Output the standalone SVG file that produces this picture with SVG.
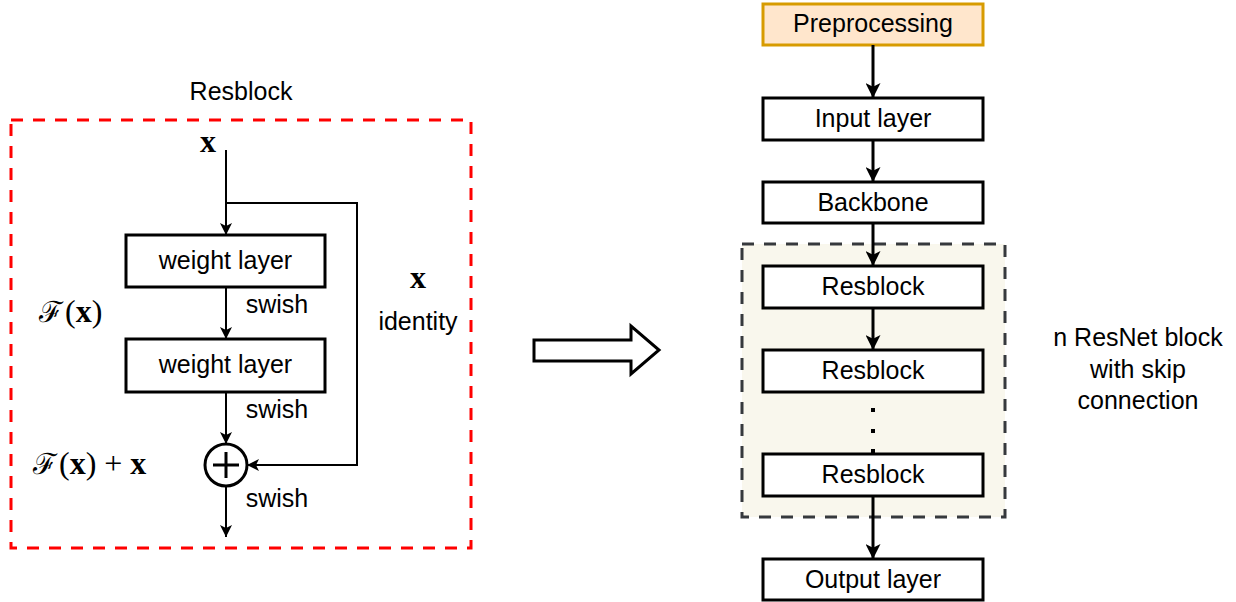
<svg xmlns="http://www.w3.org/2000/svg" width="1236" height="602" viewBox="0 0 1236 602">
<style>
.lbl{font-family:"Liberation Sans",Arial,sans-serif;font-size:25px;fill:#000;text-anchor:middle}
.math{font-family:"Liberation Serif","DejaVu Serif",serif;font-size:32px;fill:#000}
.box{fill:#fff;stroke:#000;stroke-width:3}
.ln{fill:none;stroke:#000;stroke-width:2}
.lnR{fill:none;stroke:#000;stroke-width:3}
</style>
<defs>
<marker id="ah" viewBox="0 0 12 12" refX="12" refY="6" markerWidth="12" markerHeight="12" markerUnits="userSpaceOnUse" orient="auto">
<path d="M0,0 L12,6 L0,12 L3,6 Z" fill="#000"/>
</marker>
<marker id="ahR" viewBox="0 0 14 14" refX="14" refY="7" markerWidth="15" markerHeight="15" markerUnits="userSpaceOnUse" orient="auto">
<path d="M0,0 L14,7 L0,14 L3.5,7 Z" fill="#000"/>
</marker>
</defs>
<rect width="1236" height="602" fill="#fff"/>

<g id="resblock-frame">
<rect x="11" y="120" width="460" height="428" fill="none" stroke="#ff0000" stroke-width="3" stroke-dasharray="12 10"/>
<text class="lbl" x="241" y="100">Resblock</text>
</g>

<g id="wl1"><rect class="box" x="126" y="235" width="199" height="52"/><text class="lbl" x="225.5" y="269">weight layer</text></g>
<g id="wl2"><rect class="box" x="126" y="339" width="199" height="53"/><text class="lbl" x="225.5" y="373">weight layer</text></g>
<g id="sum"><circle cx="226" cy="465" r="21" fill="#fff" stroke="#000" stroke-width="3"/><path d="M213,465 H239 M226,452 V478" stroke="#000" stroke-width="3"/></g>

<g id="left-labels">
<text class="math" x="208" y="152" text-anchor="middle" font-weight="bold">x</text>
<text class="math" x="418" y="288" text-anchor="middle" font-weight="bold">x</text>
<text class="lbl" x="418" y="330">identity</text>
<text class="lbl" x="277" y="313">swish</text>
<text class="lbl" x="277" y="418">swish</text>
<text class="lbl" x="277" y="507">swish</text>
<text class="math" x="39" y="322"><tspan font-family="'DejaVu Serif',serif" font-size="29">ℱ</tspan><tspan dx="2">(</tspan><tspan font-weight="bold">x</tspan>)</text>
<text class="math" x="33" y="474"><tspan font-family="'DejaVu Serif',serif" font-size="29">ℱ</tspan><tspan dx="2">(</tspan><tspan font-weight="bold">x</tspan>)<tspan dx="8">+</tspan><tspan dx="8" font-weight="bold">x</tspan></text>
</g>

<g id="big-arrow">
<polygon points="534,340 631,340 631,326 659,350 631,374 631,361 534,361" fill="#fff" stroke="#000" stroke-width="3"/>
</g>

<g id="group-box">
<rect x="742" y="244" width="263" height="273" fill="#f9f7ed" stroke="#36393d" stroke-width="3" stroke-dasharray="12 10"/>
</g>

<g id="pre"><rect x="763" y="4" width="220" height="41" fill="#ffe6cc" stroke="#d79b00" stroke-width="3"/><text class="lbl" x="873" y="32">Preprocessing</text></g>
<g id="input"><rect class="box" x="763" y="98" width="220" height="42"/><text class="lbl" x="873" y="127">Input layer</text></g>
<g id="backbone"><rect class="box" x="763" y="182" width="220" height="41"/><text class="lbl" x="873" y="211">Backbone</text></g>
<g id="rb1"><rect class="box" x="763" y="266" width="220" height="42"/><text class="lbl" x="873" y="295">Resblock</text></g>
<g id="rb2"><rect class="box" x="763" y="350" width="220" height="42"/><text class="lbl" x="873" y="379">Resblock</text></g>
<g id="rb3"><rect class="box" x="763" y="454" width="220" height="42"/><text class="lbl" x="873" y="483">Resblock</text></g>
<g id="output"><rect class="box" x="763" y="559" width="220" height="41"/><text class="lbl" x="873" y="588">Output layer</text></g>

<g id="dots" fill="#000">
<rect x="871" y="408" width="4" height="4"/>
<rect x="871" y="429" width="4" height="4"/>
<rect x="871" y="449" width="4" height="4"/>
</g>

<g id="note">
<text class="lbl" x="1138" y="346">n ResNet block</text>
<text class="lbl" x="1138" y="378">with skip</text>
<text class="lbl" x="1138" y="409">connection</text>
</g>

<g id="connectors">
<line class="ln" x1="226" y1="150" x2="226" y2="235" marker-end="url(#ah)"/>
<line class="ln" x1="226" y1="287" x2="226" y2="339" marker-end="url(#ah)"/>
<line class="ln" x1="226" y1="392" x2="226" y2="444" marker-end="url(#ah)"/>
<polyline class="ln" points="226,203 357,203 357,465 247,465" marker-end="url(#ah)"/>
<line class="ln" x1="226" y1="486" x2="226" y2="537" marker-end="url(#ah)"/>
<line class="lnR" x1="873" y1="45" x2="873" y2="98" marker-end="url(#ahR)"/>
<line class="lnR" x1="873" y1="140" x2="873" y2="182" marker-end="url(#ahR)"/>
<line class="lnR" x1="873" y1="223" x2="873" y2="266" marker-end="url(#ahR)"/>
<line class="lnR" x1="873" y1="308" x2="873" y2="350" marker-end="url(#ahR)"/>
<line class="lnR" x1="873" y1="496" x2="873" y2="559" marker-end="url(#ahR)"/>
</g>
</svg>
